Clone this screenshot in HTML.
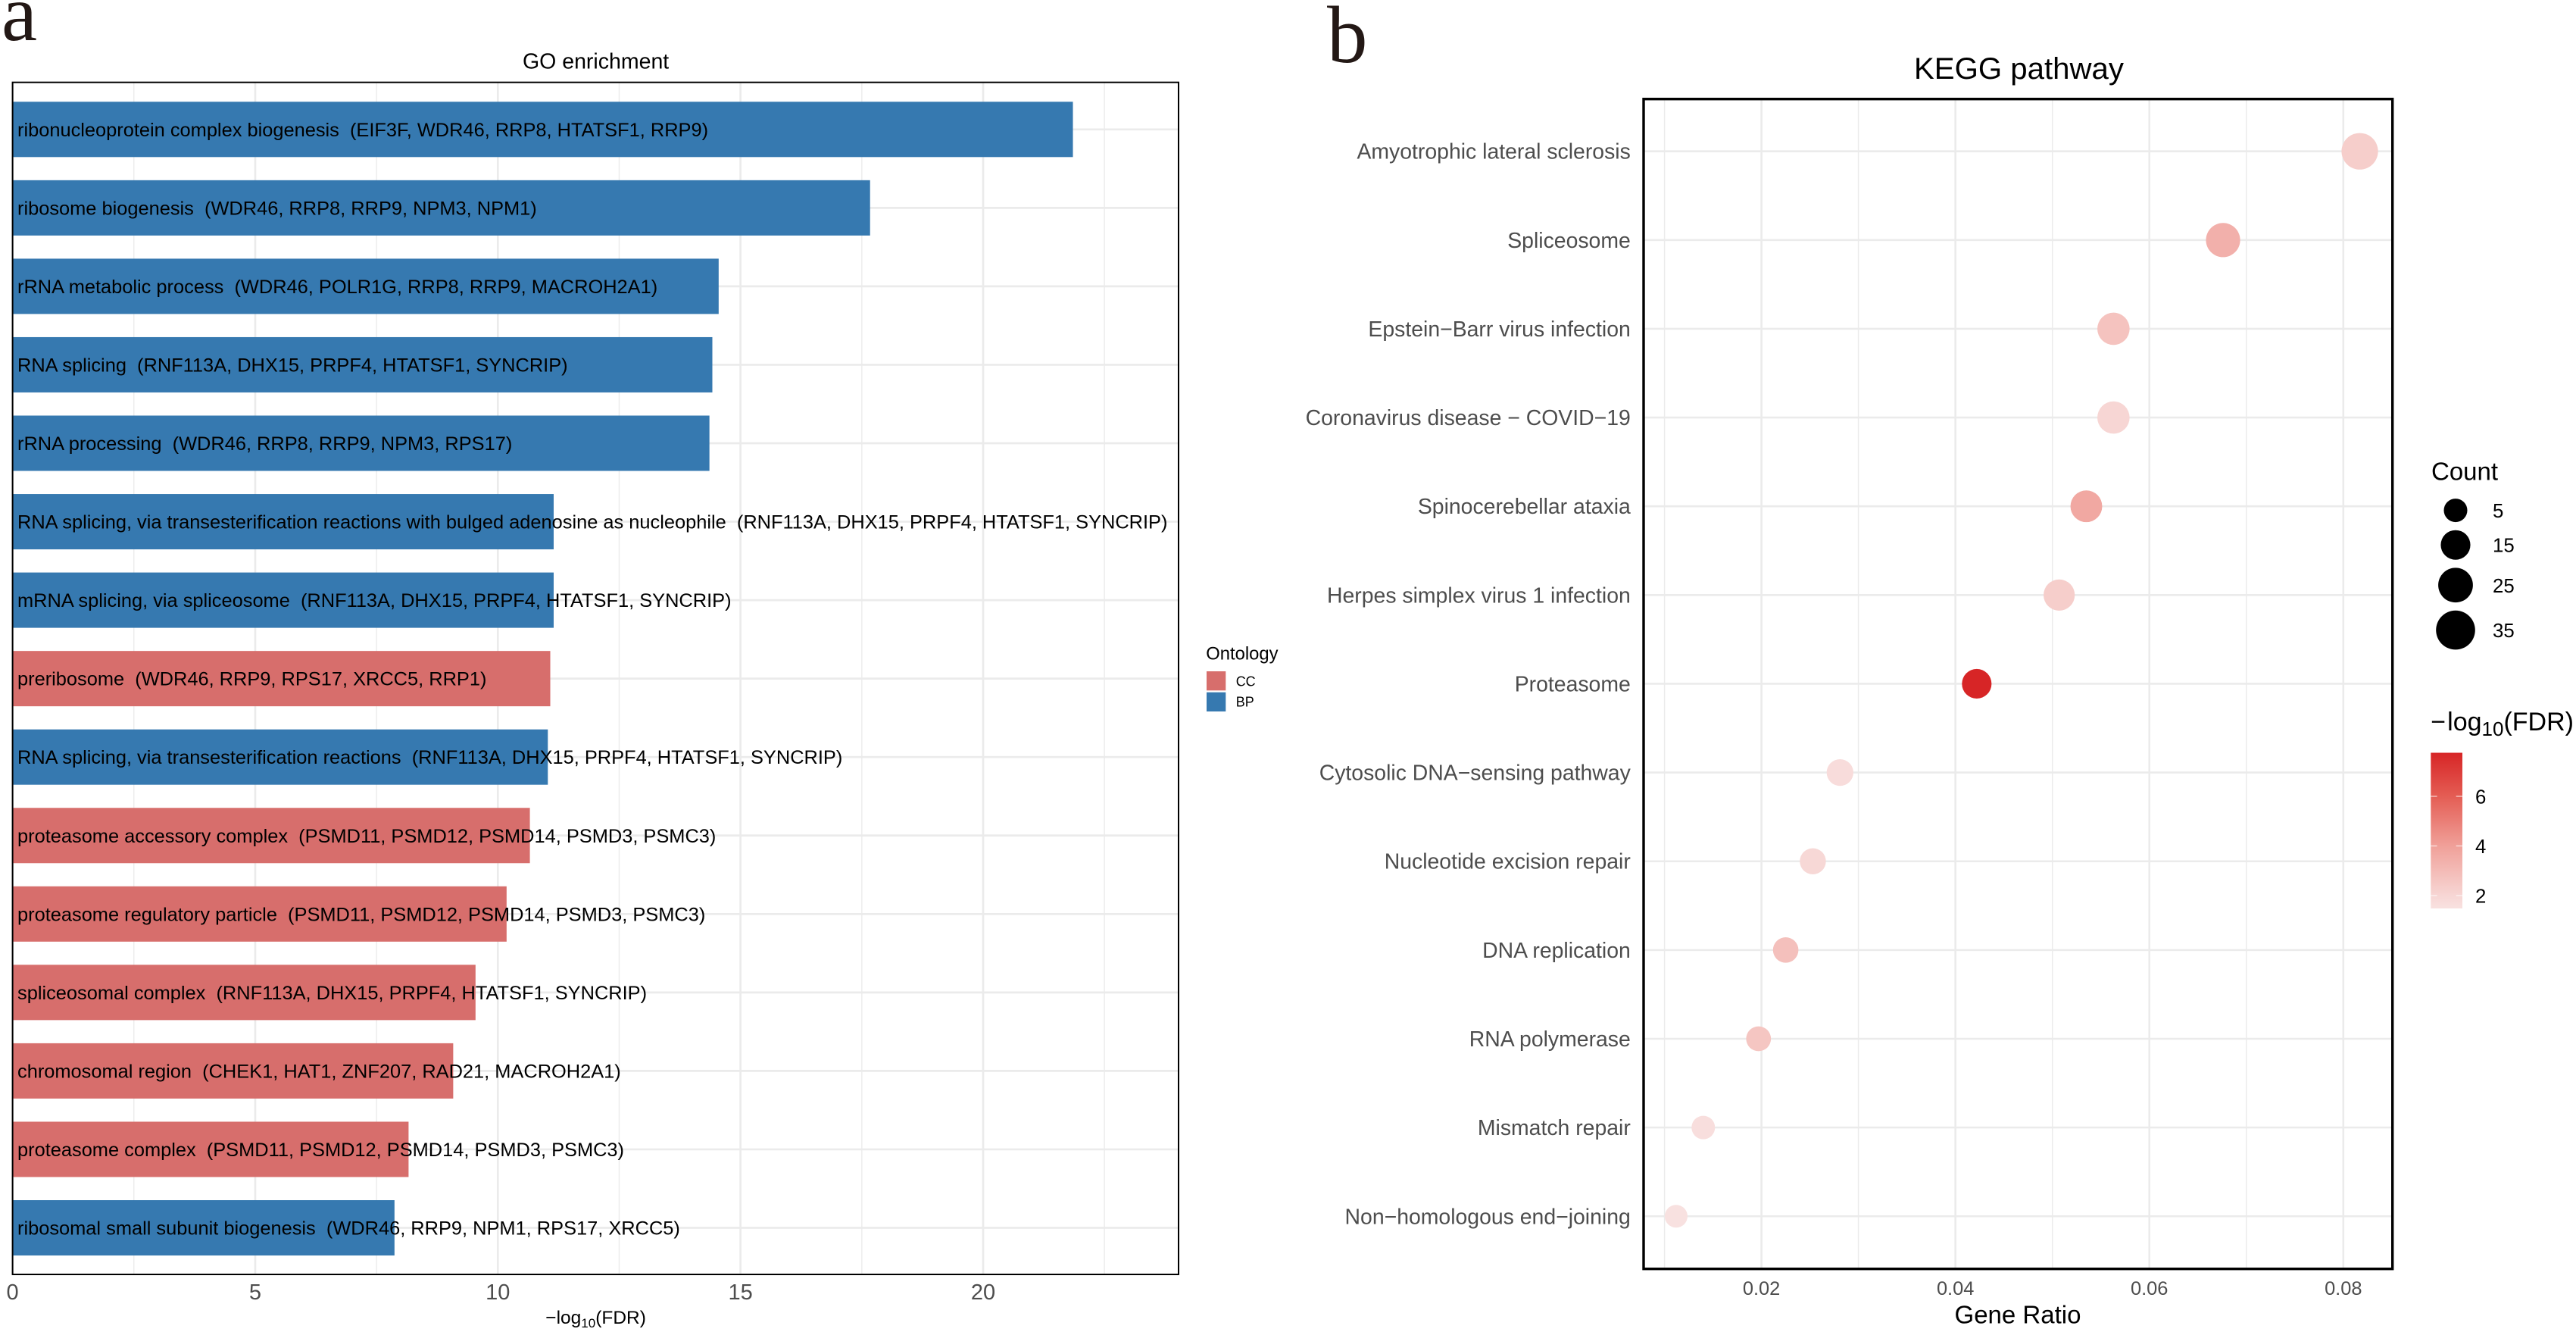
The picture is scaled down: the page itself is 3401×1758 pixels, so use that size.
<!DOCTYPE html>
<html lang="en">
<head>
<meta charset="utf-8">
<title>GO enrichment and KEGG pathway</title>
<style>
html,body{margin:0;padding:0;background:#fff;width:3401px;height:1758px;overflow:hidden}
svg{display:block}
text{font-family:"Liberation Sans",sans-serif;white-space:pre}
</style>
</head>
<body>
<svg id="fig" xmlns="http://www.w3.org/2000/svg" width="3401" height="1758" viewBox="0 0 3401 1758">
  <rect x="0" y="0" width="3401" height="1758" fill="#fff"/>
  <defs><linearGradient id="fdrGrad" x1="0" y1="1" x2="0" y2="0"></linearGradient></defs>
  <text x="2" y="53" fill="#231815" style="font-family:'Liberation Serif',serif;font-size:106px">a</text>
  <text x="1752" y="82" fill="#231815" style="font-family:'Liberation Serif',serif;font-size:107px">b</text>

  <g id="goChart">
    <text x="786.6" y="90.7" text-anchor="middle" font-size="28.5" fill="#000">GO enrichment</text>
    <g id="goGrid"></g>
    <g id="goBars"></g>
    <g id="goLabels"></g>
    <rect x="16.6" y="108.7" width="1539.4" height="1573.3" fill="none" stroke="#000" stroke-width="2"/>
    <g id="goTicks"></g>
    <text x="786.6" y="1747" text-anchor="middle" font-size="24.5" fill="#000">−log<tspan font-size="17" dy="5">10</tspan><tspan dy="-5">(FDR)</tspan></text>
    <g id="goLegend">
      <text x="1592.3" y="870.7" font-size="23.8" fill="#000">Ontology</text>
    </g>
  </g>

  <g id="keggChart">
    <text x="2665.5" y="104" text-anchor="middle" font-size="40.2" fill="#000">KEGG pathway</text>
    <g id="keggGrid"></g>
    <g id="keggPoints"></g>
    <rect x="2170" y="130.7" width="988.7" height="1544" fill="none" stroke="#000" stroke-width="3.4"/>
    <g id="keggYLabels"></g>
    <g id="keggXTicks"></g>
    <text x="2664" y="1746.7" text-anchor="middle" font-size="33" fill="#000">Gene Ratio</text>
    <g id="countLegend">
      <text x="3210" y="633.6" font-size="33" fill="#000">Count</text>
    </g>
    <g id="fdrLegend">
      <text x="3209.3" y="964" font-size="34" fill="#000">−<tspan dx="2">log</tspan><tspan font-size="26" dy="7">10</tspan><tspan dy="-7">(FDR)</tspan></text>
      <rect x="3209.3" y="993.5" width="41.7" height="205.5" fill="url(#fdrGrad)"/>
    </g>
  </g>
</svg>
<script>
// ---------- GO enrichment data ----------
const goTerms = [
  "ribonucleoprotein complex biogenesis",
  "ribosome biogenesis",
  "rRNA metabolic process",
  "RNA splicing",
  "rRNA processing",
  "RNA splicing, via transesterification reactions with bulged adenosine as nucleophile",
  "mRNA splicing, via spliceosome",
  "preribosome",
  "RNA splicing, via transesterification reactions",
  "proteasome accessory complex",
  "proteasome regulatory particle",
  "spliceosomal complex",
  "chromosomal region",
  "proteasome complex",
  "ribosomal small subunit biogenesis"
];
const goGenes = [
  "EIF3F, WDR46, RRP8, HTATSF1, RRP9",
  "WDR46, RRP8, RRP9, NPM3, NPM1",
  "WDR46, POLR1G, RRP8, RRP9, MACROH2A1",
  "RNF113A, DHX15, PRPF4, HTATSF1, SYNCRIP",
  "WDR46, RRP8, RRP9, NPM3, RPS17",
  "RNF113A, DHX15, PRPF4, HTATSF1, SYNCRIP",
  "RNF113A, DHX15, PRPF4, HTATSF1, SYNCRIP",
  "WDR46, RRP9, RPS17, XRCC5, RRP1",
  "RNF113A, DHX15, PRPF4, HTATSF1, SYNCRIP",
  "PSMD11, PSMD12, PSMD14, PSMD3, PSMC3",
  "PSMD11, PSMD12, PSMD14, PSMD3, PSMC3",
  "RNF113A, DHX15, PRPF4, HTATSF1, SYNCRIP",
  "CHEK1, HAT1, ZNF207, RAD21, MACROH2A1",
  "PSMD11, PSMD12, PSMD14, PSMD3, PSMC3",
  "WDR46, RRP9, NPM1, RPS17, XRCC5"
];
const goValues = [21.85, 17.67, 14.55, 14.42, 14.36, 11.15, 11.15, 11.08, 11.03, 10.66, 10.18, 9.54, 9.08, 8.16, 7.87];
const goOntology = ["BP","BP","BP","BP","BP","BP","BP","CC","BP","CC","CC","CC","CC","CC","BP"];
const goTickValues = [0, 5, 10, 15, 20];
const goMinorValues = [2.5, 7.5, 12.5, 17.5, 22.5];
const ontologyKeys = ["CC", "BP"];

// ---------- KEGG data ----------
const keggPathways = [
  "Amyotrophic lateral sclerosis",
  "Spliceosome",
  "Epstein\u2212Barr virus infection",
  "Coronavirus disease \u2212 COVID\u221219",
  "Spinocerebellar ataxia",
  "Herpes simplex virus 1 infection",
  "Proteasome",
  "Cytosolic DNA\u2212sensing pathway",
  "Nucleotide excision repair",
  "DNA replication",
  "RNA polymerase",
  "Mismatch repair",
  "Non\u2212homologous end\u2212joining"
];
const keggRatio = [0.0817, 0.0676, 0.0563, 0.0563, 0.0535, 0.0507, 0.0422, 0.0281, 0.0253, 0.0225, 0.0197, 0.0140, 0.0112];
const keggCount = [29, 24, 20, 20, 19, 18, 15, 10, 9, 8, 7, 5, 4];
const keggFdr = [2.3, 3.4, 2.7, 2.0, 3.7, 2.3, 7.76, 1.7, 1.9, 2.8, 2.6, 1.6, 1.5];
const keggTickLabels = ["0.02", "0.04", "0.06", "0.08"];
const keggMinorValues = [0.01, 0.03, 0.05, 0.07];
const countLegendValues = [5, 15, 25, 35];
const fdrLegendTicks = [2, 4, 6];

// ---------- axis functions ----------
const NS = "http://www.w3.org/2000/svg";
const xGo = v => 16.6 + v * 64.07;
const yGo = i => 170.8 + i * 103.55;
const xKegg = v => 2325.6 + (v - 0.02) * 12803;
const yKegg = i => 199.7 + i * 117.13;
const rCount = c => Math.sqrt(169 + 14.2 * c);
const yFdrBar = v => 1182 - (v - 2) * 32.75;
const ontologyColor = o => (o === "CC" ? "#d76e6c" : "#3679b0");

// colour ramp sampled from the reference colourbar
const rampDomain = [1.48, 2, 4, 6, 7.76];
const rampRed = [248, 247, 240, 228, 215];
const rampGreen = [225, 214, 160, 93, 37];
const rampBlue = [224, 212, 153, 84, 38];
function fdrColor(v) {
  const n = rampDomain.length;
  const c = Math.max(rampDomain[0], Math.min(rampDomain[n - 1], v));
  let k = 0;
  while (k < n - 2 && c > rampDomain[k + 1]) k++;
  const t = (c - rampDomain[k]) / (rampDomain[k + 1] - rampDomain[k]);
  const mix = a => Math.round(a[k] + (a[k + 1] - a[k]) * t);
  return "rgb(" + mix(rampRed) + "," + mix(rampGreen) + "," + mix(rampBlue) + ")";
}

function mk(tag, parentId, geom) {
  const n = document.createElementNS(NS, tag);
  for (const key in geom) n.setAttribute(key, geom[key]);
  document.getElementById(parentId).appendChild(n);
  return n;
}

let el;

// ---------- GO grid ----------
goMinorValues.forEach(v => {
  el = mk("line", "goGrid", {x1: xGo(v), x2: xGo(v), y1: 108.7, y2: 1682, stroke: "#ebebeb", "stroke-width": 1.4});
  
  
});
goTickValues.forEach(v => {
  el = mk("line", "goGrid", {x1: xGo(v), x2: xGo(v), y1: 108.7, y2: 1682, stroke: "#ebebeb", "stroke-width": 2.7});
  
  
});
goTerms.forEach((t, i) => {
  el = mk("line", "goGrid", {x1: 16.6, x2: 1556, y1: yGo(i), y2: yGo(i), stroke: "#ebebeb", "stroke-width": 2.7});
  
  
});

// ---------- GO bars + labels ----------
goValues.forEach((v, i) => {
  el = mk("rect", "goBars", {x: xGo(0), y: yGo(i) - 36.5, width: xGo(v) - xGo(0), height: 73, fill: ontologyColor(goOntology[i])});
  
  
  el = mk("text", "goLabels", {x: 23, y: yGo(i) + 9, "font-size": 25.4, fill: "#000"});
  
  
  el.textContent = goTerms[i] + "  (" + goGenes[i] + ")";
});

// ---------- GO ticks ----------
goTickValues.forEach(v => {
  el = mk("text", "goTicks", {x: xGo(v), y: 1715, "text-anchor": "middle", "font-size": 29, fill: "#4d4d4d"});
  
  
  el.textContent = String(v);
});

// ---------- Ontology legend ----------
ontologyKeys.forEach((k, i) => {
  el = mk("rect", "goLegend", {x: 1593, y: 886 + i * 27.7, width: 25.3, height: 25.3, fill: ontologyColor(k)});
  
  
  el = mk("text", "goLegend", {x: 1631.7, y: 905.7 + i * 27, "font-size": 18, fill: "#000"});
  
  
  el.textContent = k;
});

// ---------- KEGG grid ----------
keggMinorValues.forEach(v => {
  el = mk("line", "keggGrid", {x1: xKegg(v), x2: xKegg(v), y1: 130.7, y2: 1674.7, stroke: "#ebebeb", "stroke-width": 1.5});
  
  
});
keggTickLabels.forEach(s => {
  const v = parseFloat(s);
  el = mk("line", "keggGrid", {x1: xKegg(v), x2: xKegg(v), y1: 130.7, y2: 1674.7, stroke: "#ebebeb", "stroke-width": 2.6});
  
  
});
keggPathways.forEach((p, i) => {
  el = mk("line", "keggGrid", {x1: 2170, x2: 3158.7, y1: yKegg(i), y2: yKegg(i), stroke: "#ebebeb", "stroke-width": 2.6});
  
  
});

// ---------- KEGG points + labels ----------
keggRatio.forEach((v, i) => {
  el = mk("circle", "keggPoints", {cx: xKegg(v), cy: yKegg(i), r: rCount(keggCount[i]), fill: fdrColor(keggFdr[i])});
  
  
  el = mk("text", "keggYLabels", {x: 2152.8, y: yKegg(i) + 10, "text-anchor": "end", "font-size": 28.4, fill: "#4d4d4d"});
  
  
  el.textContent = keggPathways[i];
});

// ---------- KEGG x ticks ----------
keggTickLabels.forEach(s => {
  el = mk("text", "keggXTicks", {x: xKegg(parseFloat(s)), y: 1709, "text-anchor": "middle", "font-size": 25.4, fill: "#4d4d4d"});
  
  
  el.textContent = s;
});

// ---------- Count legend ----------
let legendY = 673.6;
countLegendValues.forEach((c, i) => {
  if (i > 0) legendY += rCount(countLegendValues[i - 1]) + rCount(c) + 10.6;
  el = mk("circle", "countLegend", {cx: 3242, cy: legendY, r: rCount(c), fill: "#000"});
  
  
  el = mk("text", "countLegend", {x: 3291, y: legendY + 9.5, "font-size": 25.8, fill: "#000"});
  
  
  el.textContent = String(c);
});

// ---------- FDR colourbar ----------
rampDomain.forEach(v => {
  const stop = document.createElementNS(NS, "stop");
  stop.setAttribute("offset", (v - rampDomain[0]) / (rampDomain[rampDomain.length - 1] - rampDomain[0]));
  stop.setAttribute("stop-color", fdrColor(v));
  document.getElementById("fdrGrad").appendChild(stop);
});
fdrLegendTicks.forEach(v => {
  const y = yFdrBar(v);
  el = mk("line", "fdrLegend", {x1: 3209.3, x2: 3217.6, y1: y, y2: y, stroke: "#fff", "stroke-opacity": 0.75, "stroke-width": 1.2});
  
  
  el = mk("line", "fdrLegend", {x1: 3242.7, x2: 3251, y1: y, y2: y, stroke: "#fff", "stroke-opacity": 0.75, "stroke-width": 1.2});
  
  
  el = mk("text", "fdrLegend", {x: 3268, y: y + 9.7, "font-size": 25.8, fill: "#000"});
  
  
  el.textContent = String(v);
});
</script>
</body>
</html>
